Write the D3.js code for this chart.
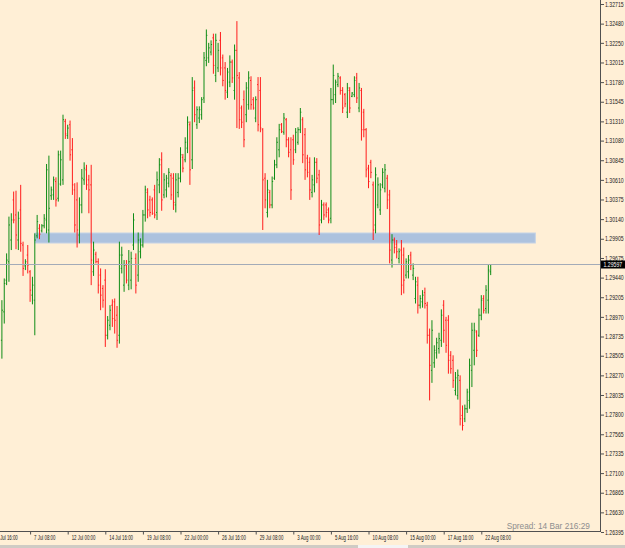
<!DOCTYPE html>
<html>
<head>
<meta charset="utf-8">
<script src="https://cdnjs.cloudflare.com/ajax/libs/d3/7.8.5/d3.min.js"></script>
<style>
  body { margin: 0; background: #ffefd6; }
  svg { display: block; }
  text { font-family: "Liberation Sans", Arial, sans-serif; }
</style>
</head>
<body>
<div id="chart"></div>
<script>
// GBPUSD style bar chart, H4 bars

var opens = [1.2869,1.2903,1.2941,1.2963,1.2989,1.3037,1.3019,1.2989,1.3025,1.2983,
  1.2958,1.2971,1.2951,1.2923,1.2917,1.2994,1.3003,1.3000,1.3006,1.3013,
  1.3001,1.3042,1.3043,1.3059,1.3039,1.3056,1.3061,1.3131,1.3114,1.3127,
  1.3097,1.3049,1.3037,1.2995,1.3031,1.3061,1.3073,1.3061,1.3055,1.2951,
  1.2972,1.2963,1.2947,1.2931,1.2941,1.2875,1.2887,1.2911,1.2915,1.2899,
  1.2875,1.2955,1.2935,1.2959,1.2935,1.2941,1.2983,1.2967,1.2947,1.2975,
  1.2983,1.3019,1.3046,1.3037,1.3037,1.3049,1.3022,1.3055,1.3085,1.3043,
  1.3049,1.3057,1.3066,1.3063,1.3031,1.3046,1.3063,1.3088,1.3085,1.3099,
  1.3127,1.3085,1.3171,1.3127,1.3135,1.3139,1.3159,1.3204,1.3207,1.3214,
  1.3231,1.3186,1.3195,1.3228,1.3207,1.3195,1.3166,1.3178,1.3202,1.3168,
  1.3216,1.3183,1.3147,1.3157,1.3139,1.3151,1.3180,1.3157,1.3135,1.3175,
  1.3168,1.3121,1.3063,1.3022,1.3046,1.3031,1.3063,1.3079,1.3097,1.3127,
  1.3118,1.3133,1.3109,1.3097,1.3109,1.3097,1.3106,1.3121,1.3133,1.3115,
  1.3087,1.3082,1.3046,1.3055,1.3082,1.3067,1.3013,1.3031,1.3031,1.3025,
  1.3015,1.3157,1.3163,1.3175,1.3183,1.3168,1.3163,1.3142,1.3168,1.3161,
  1.3163,1.3183,1.3147,1.3168,1.3142,1.3121,1.3075,1.3082,1.3055,1.3007,
  1.3031,1.3025,1.3055,1.3051,1.3063,1.3043,1.2965,1.2989,1.2984,1.2967,
  1.2977,1.2971,1.2947,1.2951,1.2971,1.2947,1.2919,1.2935,1.2911,1.2915,
  1.2926,1.2911,1.2875,1.2833,1.2842,1.2854,1.2859,1.2869,1.2911,1.2893,
  1.2893,1.2851,1.2845,1.2809,1.2803,1.2821,1.2779,1.2775,1.2787,1.2797,
  1.2833,1.2857,1.2879,1.2875,1.2899,1.2919,1.2907,1.2917,1.2951];

var highs = [1.2917,1.2943,1.2973,1.3017,1.3021,1.3047,1.3048,1.3023,1.3055,1.2987,
  1.2966,1.2983,1.2953,1.2945,1.2997,1.3019,1.3008,1.3008,1.3020,1.3080,
  1.3090,1.3053,1.3065,1.3064,1.3096,1.3096,1.3139,1.3134,1.3127,1.3132,
  1.3111,1.3057,1.3058,1.3040,1.3074,1.3082,1.3079,1.3067,1.3079,1.2987,
  1.2975,1.2967,1.2955,1.2935,1.2954,1.2898,1.2911,1.2918,1.2919,1.2910,
  1.2987,1.2981,1.2965,1.2965,1.2977,1.2975,1.3021,1.2973,1.2998,1.2991,
  1.3025,1.3054,1.3051,1.3042,1.3040,1.3055,1.3071,1.3087,1.3094,1.3069,
  1.3067,1.3075,1.3069,1.3069,1.3069,1.3069,1.3100,1.3092,1.3112,1.3137,
  1.3131,1.3184,1.3180,1.3149,1.3149,1.3160,1.3214,1.3241,1.3225,1.3228,
  1.3236,1.3236,1.3225,1.3238,1.3211,1.3202,1.3195,1.3210,1.3205,1.3223,
  1.3251,1.3190,1.3150,1.3168,1.3178,1.3191,1.3185,1.3160,1.3161,1.3184,
  1.3184,1.3123,1.3069,1.3061,1.3049,1.3065,1.3085,1.3112,1.3128,1.3129,
  1.3141,1.3135,1.3112,1.3112,1.3115,1.3123,1.3124,1.3147,1.3136,1.3123,
  1.3091,1.3088,1.3067,1.3088,1.3087,1.3073,1.3037,1.3034,1.3034,1.3028,
  1.3171,1.3199,1.3181,1.3189,1.3185,1.3172,1.3165,1.3177,1.3172,1.3166,
  1.3185,1.3189,1.3177,1.3171,1.3146,1.3123,1.3079,1.3085,1.3059,1.3076,
  1.3064,1.3057,1.3075,1.3080,1.3067,1.3049,1.2996,1.2992,1.2989,1.2979,
  1.2989,1.2980,1.2967,1.2971,1.2975,1.2961,1.2945,1.2945,1.2923,1.2929,
  1.2932,1.2915,1.2883,1.2893,1.2863,1.2872,1.2878,1.2906,1.2917,1.2897,
  1.2899,1.2856,1.2851,1.2831,1.2834,1.2827,1.2791,1.2792,1.2811,1.2847,
  1.2890,1.2890,1.2881,1.2907,1.2923,1.2923,1.2935,1.2959,1.29597];

var lows = [1.2847,1.2889,1.2935,1.2939,1.2977,1.3009,1.2978,1.2977,1.2975,1.2946,
  1.2953,1.2949,1.2915,1.2912,1.2875,1.2991,1.2990,1.2998,1.3003,1.2997,
  1.2986,1.3037,1.3037,1.3029,1.3035,1.3054,1.3055,1.3110,1.3110,1.3084,
  1.3043,1.2998,1.2980,1.2985,1.3021,1.3055,1.3049,1.3021,1.2935,1.2946,
  1.2961,1.2925,1.2905,1.2908,1.2861,1.2870,1.2881,1.2885,1.2877,1.2860,
  1.2865,1.2949,1.2927,1.2937,1.2929,1.2930,1.2977,1.2925,1.2939,1.2967,
  1.2980,1.3011,1.3015,1.3017,1.3019,1.3015,1.3013,1.3045,1.3024,1.3039,
  1.3040,1.3052,1.3037,1.3025,1.3022,1.3040,1.3058,1.3070,1.3082,1.3093,
  1.3055,1.3074,1.3130,1.3122,1.3129,1.3133,1.3153,1.3197,1.3201,1.3210,
  1.3188,1.3178,1.3190,1.3186,1.3173,1.3157,1.3159,1.3172,1.3177,1.3157,
  1.3123,1.3122,1.3123,1.3100,1.3130,1.3145,1.3145,1.3145,1.3130,1.3119,
  1.3118,1.3001,1.3027,1.3016,1.3027,1.3027,1.3061,1.3075,1.3088,1.3117,
  1.3115,1.3100,1.3088,1.3037,1.3079,1.3093,1.3103,1.3117,1.3081,1.3061,
  1.3064,1.3037,1.3040,1.3046,1.3057,1.2995,1.3009,1.3013,1.3016,1.3009,
  1.3009,1.3151,1.3153,1.3172,1.3163,1.3141,1.3148,1.3135,1.3141,1.3160,
  1.3160,1.3153,1.3142,1.3108,1.3112,1.3064,1.3051,1.3063,1.2989,1.2997,
  1.3027,1.3019,1.3051,1.3046,1.3026,1.2961,1.2956,1.2973,1.2967,1.2961,
  1.2923,1.2925,1.2943,1.2943,1.2953,1.2941,1.2913,1.2901,1.2907,1.2908,
  1.2907,1.2865,1.2797,1.2818,1.2836,1.2847,1.2853,1.2861,1.2866,1.2854,
  1.2829,1.2829,1.2812,1.2803,1.2798,1.2767,1.2761,1.2771,1.2782,1.2787,
  1.2813,1.2839,1.2849,1.2873,1.2893,1.2901,1.2901,1.2901,1.2947];

var closes = [1.2905,1.2937,1.2965,1.3007,1.3013,1.3013,1.2995,1.3015,1.2985,1.2955,
  1.2963,1.2959,1.2929,1.2935,1.2989,1.3011,1.2996,1.3006,1.3015,1.3073,
  1.3027,1.3049,1.3061,1.3037,1.3091,1.3085,1.3133,1.3116,1.3123,1.3091,
  1.3055,1.3007,1.3001,1.3031,1.3063,1.3075,1.3055,1.3049,1.2965,1.2977,
  1.2963,1.2935,1.2923,1.2917,1.2875,1.2893,1.2905,1.2895,1.2893,1.2869,
  1.2971,1.2971,1.2959,1.2941,1.2963,1.2967,1.3013,1.2935,1.2989,1.2983,
  1.3019,1.3049,1.3025,1.3022,1.3021,1.3019,1.3061,1.3079,1.3037,1.3061,
  1.3063,1.3070,1.3043,1.3034,1.3061,1.3063,1.3091,1.3075,1.3106,1.3130,
  1.3073,1.3168,1.3139,1.3145,1.3145,1.3157,1.3207,1.3234,1.3219,1.3223,
  1.3198,1.3228,1.3216,1.3195,1.3180,1.3168,1.3190,1.3202,1.3183,1.3216,
  1.3186,1.3133,1.3130,1.3109,1.3171,1.3183,1.3151,1.3147,1.3157,1.3127,
  1.3123,1.3061,1.3037,1.3049,1.3031,1.3059,1.3079,1.3106,1.3121,1.3119,
  1.3135,1.3109,1.3094,1.3049,1.3085,1.3118,1.3121,1.3142,1.3091,1.3073,
  1.3070,1.3049,1.3061,1.3082,1.3063,1.3007,1.3031,1.3019,1.3022,1.3013,
  1.3157,1.3186,1.3178,1.3185,1.3168,1.3147,1.3152,1.3171,1.3147,1.3165,
  1.3180,1.3159,1.3171,1.3121,1.3121,1.3073,1.3059,1.3070,1.3001,1.3067,
  1.3055,1.3049,1.3070,1.3073,1.3037,1.2977,1.2989,1.2980,1.2975,1.2975,
  1.2935,1.2941,1.2963,1.2965,1.2959,1.2955,1.2939,1.2911,1.2919,1.2923,
  1.2913,1.2875,1.2839,1.2881,1.2857,1.2866,1.2871,1.2899,1.2881,1.2863,
  1.2845,1.2835,1.2821,1.2824,1.2827,1.2775,1.2767,1.2787,1.2807,1.2839,
  1.2881,1.2881,1.2857,1.2899,1.2917,1.2905,1.2929,1.2953,1.29597];

// right price scale labels (as MT4 prints them)
var priceTicks = [1.32715,1.32480,1.32250,1.32015,1.31780,1.31545,1.31310,1.31080,1.30845,1.30610,
  1.30375,1.30140,1.29905,1.29675,1.29440,1.29205,1.28970,1.28735,1.28505,1.28270,
  1.28035,1.27800,1.27565,1.27335,1.27100,1.26865,1.26630,1.26395];

// time labels, one every 16 bars
var timeTickBars = [-4,12,28,44,60,76,92,108,124,140,156,172,188,204];
var timeLabels = ["6 Jul 16:00","7 Jul 08:00","12 Jul 00:00","14 Jul 16:00","19 Jul 08:00",
  "22 Jul 00:00","26 Jul 16:00","29 Jul 08:00","3 Aug 00:00","5 Aug 16:00",
  "10 Aug 08:00","15 Aug 00:00","17 Aug 16:00","22 Aug 08:00"];

// rectangle object drawn on the chart (bar index / price)
var zoneBars = [14, 227];
var zonePrices = [1.29974, 1.29854];

var bidPrice = 1.29597;

var W = 625, H = 548;
var plotRight = 600, plotBottom = 531.5;
var labelScale = 0.76;   // narrow MT4 price font

var svg = d3.select("#chart")
  .append("svg")
    .attr("width", W)
    .attr("height", H);

svg.append("rect")
  .attr("width", W).attr("height", H)
  .attr("fill", "#ffefd6");

var x = d3.scaleLinear()
  .domain([0, opens.length - 1])
  .range([1.9, 490.7]);

var y = d3.scaleLinear()
  .domain([1.26395, 1.32715])
  .range([532, 4]);

// squeeze small time labels horizontally
function squeeze(sel, factor) {
  sel.each(function() {
    var w = this.getComputedTextLength();
    d3.select(this)
      .attr("textLength", w * factor)
      .attr("lengthAdjust", "spacingAndGlyphs");
  });
}

svg.append("clipPath").attr("id", "plotclip")
  .append("rect")
    .attr("x", 0).attr("y", 0)
    .attr("width", plotRight).attr("height", plotBottom);

var plot = svg.append("g").attr("clip-path", "url(#plotclip)");

//Zone rectangle
plot.append("rect")
  .attr("x", x(zoneBars[0]))
  .attr("y", y(zonePrices[0]))
  .attr("width", x(zoneBars[1]) - x(zoneBars[0]))
  .attr("height", y(zonePrices[1]) - y(zonePrices[0]))
  .attr("fill", "#adc2de")
  .attr("stroke", "#c6d4e6")
  .attr("stroke-width", 1);

//Bars
var bars = plot.append("g")
  .selectAll("g")
  .data(d3.range(opens.length))
  .enter()
  .append("g")
    .attr("stroke", function(i) { return closes[i] >= opens[i] ? "#0f8c16" : "#ff1c1c"; })
    .attr("stroke-width", 1);

bars.append("line")
  .attr("x1", function(i) { return x(i); })
  .attr("x2", function(i) { return x(i); })
  .attr("y1", function(i) { return y(highs[i]); })
  .attr("y2", function(i) { return y(lows[i]); });

bars.append("line")
  .attr("x1", function(i) { return x(i) - 1; })
  .attr("x2", function(i) { return x(i); })
  .attr("y1", function(i) { return y(opens[i]); })
  .attr("y2", function(i) { return y(opens[i]); });

bars.append("line")
  .attr("x1", function(i) { return x(i); })
  .attr("x2", function(i) { return x(i) + 1; })
  .attr("y1", function(i) { return y(closes[i]); })
  .attr("y2", function(i) { return y(closes[i]); });

//Bid line
var by = Math.round(y(bidPrice)) + 0.5;
plot.append("line")
  .attr("x1", 0).attr("x2", plotRight)
  .attr("y1", by).attr("y2", by)
  .attr("stroke", "#a3abb8")
  .attr("stroke-width", 1);

//Spread text
svg.append("text")
  .attr("x", 590).attr("y", 529)
  .attr("text-anchor", "end")
  .attr("fill", "#8e8e8e")
  .style("font-size", "9px")
  .text("Spread: 14 Bar  216:29")
  .call(squeeze, 0.92);

//Frame
svg.append("line")
  .attr("x1", plotRight + 0.5).attr("x2", plotRight + 0.5)
  .attr("y1", 0).attr("y2", plotBottom)
  .attr("stroke", "#505050");
svg.append("line")
  .attr("x1", 0).attr("x2", plotRight + 1)
  .attr("y1", plotBottom).attr("y2", plotBottom)
  .attr("stroke", "#505050");

//Right price axis
var yAxis = svg.append("g")
  .attr("transform", "translate(" + (plotRight + 1) + ",0)")
  .call(d3.axisRight(y)
    .tickValues(priceTicks)
    .tickSize(3)
    .tickPadding(1)
    .tickFormat(d3.format(".5f")));
yAxis.select(".domain").remove();
yAxis.selectAll(".tick line").attr("stroke", "#505050");
yAxis.selectAll("text")
  .attr("x", 4 / labelScale)
  .attr("transform", "scale(" + labelScale + ",1)")
  .attr("fill", "#202020")
  .style("font-size", "6.8px")
  .style("font-family", "'Liberation Sans', Arial, sans-serif");

//Bid price label
svg.append("rect")
  .attr("x", plotRight + 1).attr("y", by - 4)
  .attr("width", W - plotRight - 1).attr("height", 8)
  .attr("fill", "#000");
svg.append("g")
  .attr("transform", "translate(" + (plotRight + 3.5) + "," + by + ") scale(" + labelScale + ",1)")
  .append("text")
    .attr("dy", "0.34em")
    .attr("fill", "#fff")
    .style("font-size", "6.8px")
    .text(d3.format(".5f")(bidPrice));

//Bottom time axis
var xAxis = svg.append("g")
  .attr("transform", "translate(0," + plotBottom + ")")
  .call(d3.axisBottom(x)
    .tickValues(timeTickBars)
    .tickSize(3)
    .tickFormat(function(d, i) { return timeLabels[i]; }));
xAxis.select(".domain").remove();
xAxis.selectAll(".tick line").attr("stroke", "#505050");
xAxis.selectAll("text")
  .attr("text-anchor", "start")
  .attr("x", 3.5)
  .attr("y", 4)
  .attr("fill", "#202020")
  .style("font-size", "6.8px")
  .style("font-family", "'Liberation Sans', Arial, sans-serif")
  .call(squeeze, 0.64);

//Window strip at the bottom
svg.append("rect")
  .attr("x", 0).attr("y", 545)
  .attr("width", W).attr("height", 3)
  .attr("fill", "#cfcbc4");
svg.append("rect")
  .attr("x", 358).attr("y", 545)
  .attr("width", 50).attr("height", 3)
  .attr("fill", "#f4f4f4");
</script>
</body>
</html>
